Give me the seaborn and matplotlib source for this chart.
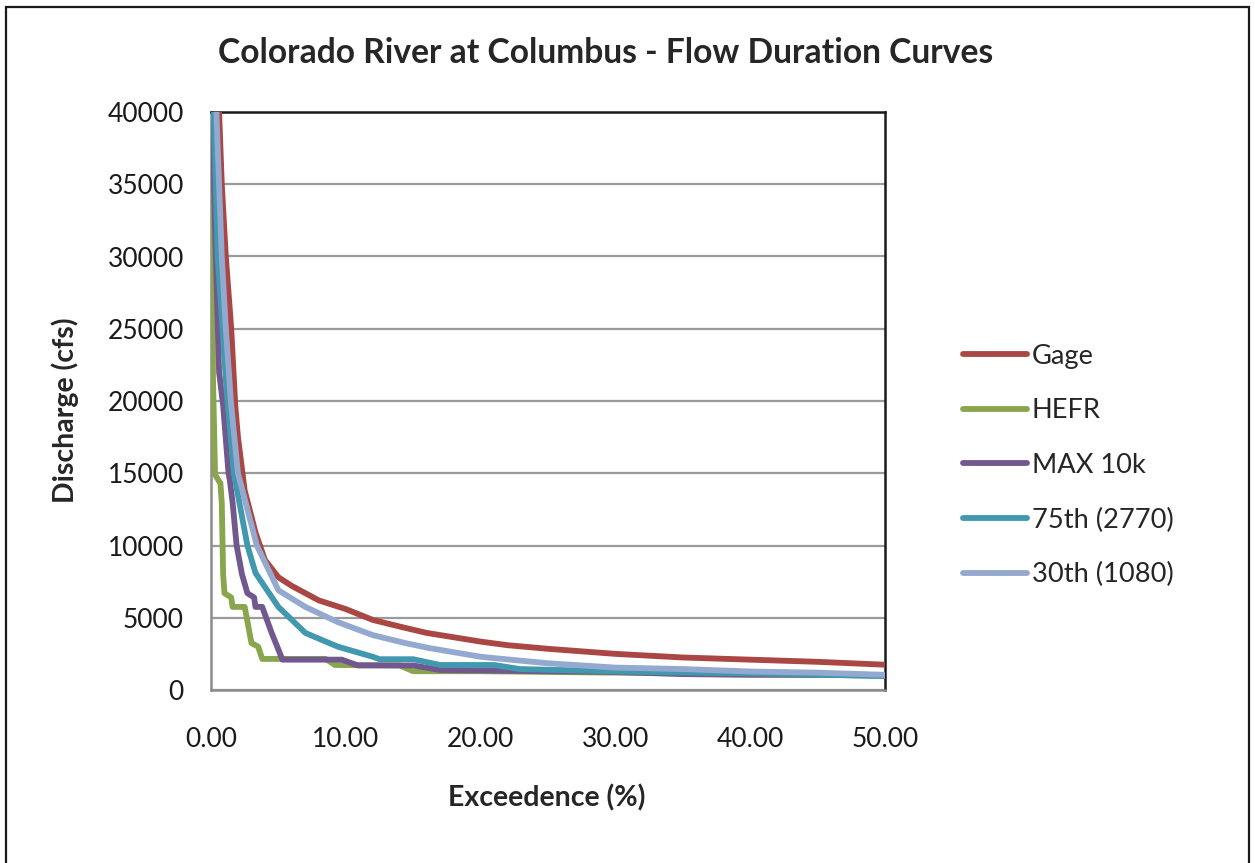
import pandas as pd
import matplotlib.pyplot as plt
import seaborn as sns

# Exceedence (%) and discharge (cfs)
gage_x = [0.6, 0.8, 1.1, 1.5, 1.8, 2.0, 2.5, 3.0, 3.3, 4.0, 5.0, 6.0, 7.0, 8.0, 10, 12, 14.4, 16, 18, 20, 22, 25, 30, 35, 40, 45, 50]
gage_y = [40000, 35000, 30000, 25000, 19700, 17500, 13800, 12000, 10900, 9000, 7800, 7200, 6700, 6200, 5600, 4850, 4300, 3950, 3650, 3350, 3100, 2850, 2500, 2250, 2100, 1950, 1750]

hefr_x = [0.05, 0.15, 0.3, 0.7, 0.8, 0.9, 1.0, 1.5, 1.6, 2.5, 3.0, 3.5, 3.8, 8.5, 9.2, 14.0, 15.0, 20, 30, 40, 50]
hefr_y = [40000, 21500, 14900, 14300, 12900, 8000, 6700, 6400, 5750, 5750, 3250, 3000, 2150, 2150, 1730, 1700, 1300, 1300, 1200, 1100, 1000]

max_x = [0.1, 0.3, 0.6, 0.9, 1.3, 1.4, 1.6, 1.9, 2.3, 2.7, 3.2, 3.3, 3.8, 4.5, 5.3, 9.7, 10.9, 15.0, 17.0, 20, 25, 30, 35, 40, 45, 50]
max_y = [40000, 32000, 22000, 19700, 15000, 14500, 13000, 10000, 8000, 6700, 6400, 5750, 5750, 3950, 2100, 2100, 1700, 1700, 1380, 1350, 1300, 1250, 1100, 1050, 1050, 1000]

p75_x = [0.2, 0.5, 1.1, 1.25, 1.7, 2.7, 3.3, 5.0, 7.0, 9.4, 12.0, 12.5, 15.0, 17.0, 21.0, 22.9, 31.8, 40, 50]
p75_y = [40000, 30000, 21450, 19700, 15000, 10000, 8100, 5750, 3950, 3000, 2300, 2130, 2130, 1730, 1730, 1450, 1250, 1150, 970]

p30_x = [0.4, 0.6, 0.8, 1.1, 1.5, 2.0, 3.4, 5.0, 7.0, 9.4, 12.0, 14.4, 16.2, 20, 22.4, 25, 30, 35, 40, 45, 50]
p30_y = [40000, 35000, 30000, 25000, 19700, 15000, 10000, 6900, 5750, 4700, 3800, 3250, 2900, 2300, 2080, 1850, 1550, 1450, 1280, 1200, 1050]

series_names = ["Gage", "HEFR", "MAX 10k", "75th (2770)", "30th (1080)"]
series_colors = ["#AA4643", "#89A54E", "#71588F", "#4198AF", "#93A9CF"]

frames = []
for name, xs, ys in zip(series_names,
                        [gage_x, hefr_x, max_x, p75_x, p30_x],
                        [gage_y, hefr_y, max_y, p75_y, p30_y]):
    frames.append(pd.DataFrame({"Exceedence": xs, "Discharge": ys, "Series": name}))
data = pd.concat(frames, ignore_index=True)

sns.set_style("white")
plt.rcParams["font.family"] = ["Lato", "DejaVu Sans"]

fig = plt.figure(figsize=(12.55, 8.63), dpi=100)
ax = fig.add_axes([211 / 1255, 1 - 690 / 863, 674 / 1255, 578 / 863])

sns.lineplot(data=data, x="Exceedence", y="Discharge", hue="Series",
             hue_order=series_names, palette=series_colors, sort=False,
             estimator=None, linewidth=4.2, ax=ax, zorder=3)
for line in ax.get_lines():
    line.set_solid_joinstyle("round")
    line.set_solid_capstyle("round")

ax.set_xlim(0, 50)
ax.set_ylim(0, 40000)
ax.set_xticks(range(0, 51, 10))
ax.set_xticklabels([f"{v:.2f}" for v in range(0, 51, 10)])
ax.set_yticks(range(0, 40001, 5000))
ax.yaxis.grid(True, color="#9A9A9A", linewidth=1.6)
ax.xaxis.grid(False)
ax.set_axisbelow(True)
ax.tick_params(axis="both", length=0, labelsize=19, colors="#1A1A1A")
ax.tick_params(axis="y", pad=19.5)
ax.tick_params(axis="x", pad=26.5)

for side in ["left", "bottom"]:
    ax.spines[side].set_color("#8C8C8C")
    ax.spines[side].set_linewidth(1.8)
for side in ["top", "right"]:
    ax.spines[side].set_color("#1A1A1A")
    ax.spines[side].set_linewidth(1.8)

ax.set_xlabel("Exceedence (%)", fontsize=20.5, fontweight="bold")
ax.set_ylabel("Discharge (cfs)", fontsize=20.5, fontweight="bold")
ax.xaxis.set_label_coords(0.4985, -0.187)
ax.xaxis.label.set_va("center")
ax.yaxis.set_label_coords(-0.2166, 0.484)
ax.yaxis.label.set_va("center")

fig.text(606 / 1255, 1 - 53 / 863, "Colorado River at Columbus - Flow Duration Curves",
         ha="center", va="center", fontsize=24.2, fontweight="bold")

handles, labels = ax.get_legend_handles_labels()
leg = ax.legend(handles, labels, loc="center left",
                bbox_to_anchor=(963 / 1255, 1 - 465.5 / 863), bbox_transform=fig.transFigure,
                frameon=False, fontsize=19.6, handlelength=2.35, handletextpad=0.18,
                labelspacing=1.09, borderpad=0, borderaxespad=0)
for h in leg.get_lines():
    h.set_linewidth(4.2)
    h.set_solid_capstyle("round")

fig.add_artist(plt.Rectangle((6 / 1255, -0.02), 1243 / 1255, 1.02 - 7 / 863,
                             transform=fig.transFigure, fill=False,
                             edgecolor="#1A1A1A", linewidth=1.6))

fig.savefig("out.png", dpi=100, facecolor="white")
